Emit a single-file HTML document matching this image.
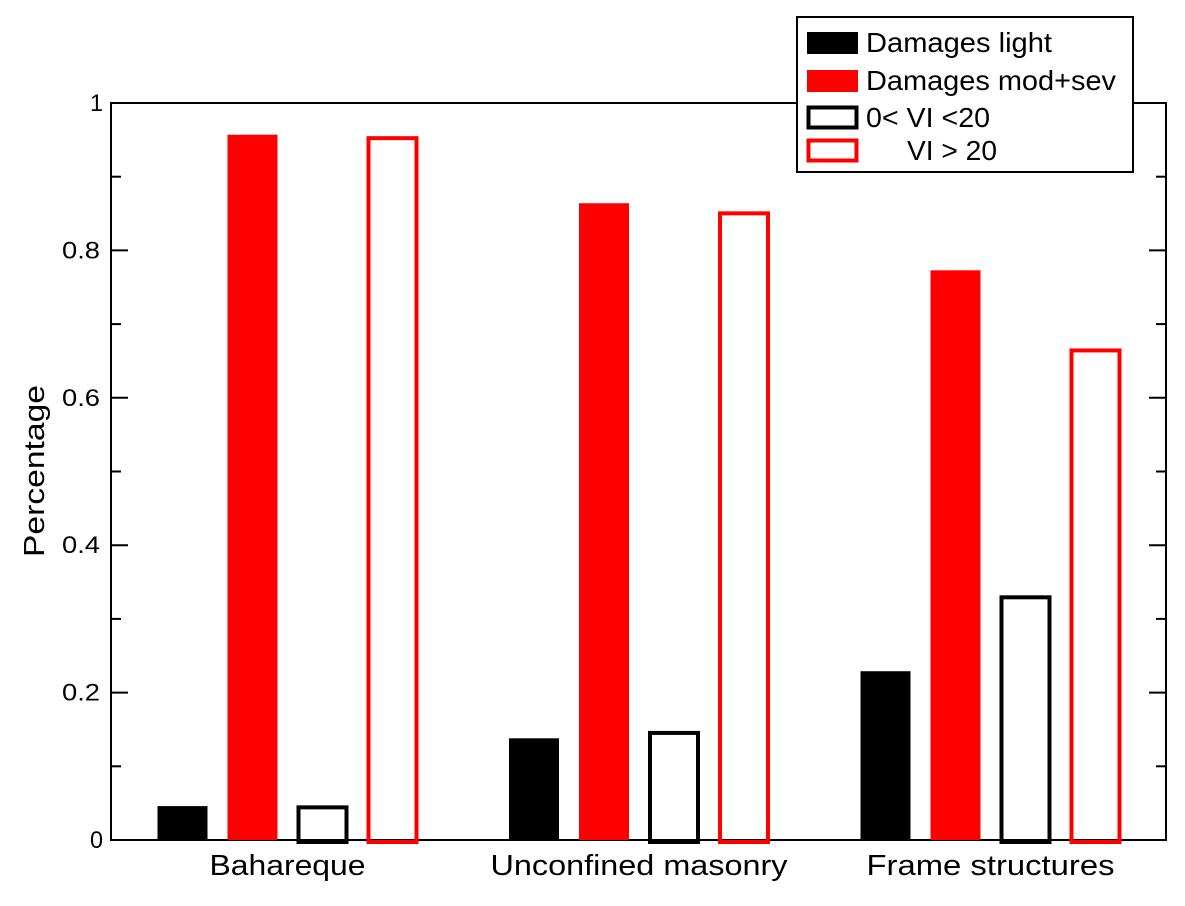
<!DOCTYPE html>
<html><head><meta charset="utf-8"><style>
body{margin:0;background:#fff;}
text{font-family:"Liberation Sans",Arial,sans-serif;}
</style></head><body>
<svg width="1185" height="901" xmlns="http://www.w3.org/2000/svg">
<g id="plot"></g>
<g>
<rect x="797" y="17" width="336" height="155" fill="#fff" stroke="#000" stroke-width="2"/>
<rect x="807" y="32" width="51" height="22" fill="#000"/>
<text x="866" y="52" font-size="28" textLength="186" lengthAdjust="spacingAndGlyphs">Damages light</text>
<rect x="807" y="70" width="51" height="22" fill="#f00"/>
<text x="866" y="90" font-size="28" textLength="250" lengthAdjust="spacingAndGlyphs">Damages mod+sev</text>
<rect x="808.5" y="107.5" width="48" height="20" fill="none" stroke="#000" stroke-width="4"/>
<text x="866" y="127" font-size="28" textLength="124" lengthAdjust="spacingAndGlyphs">0&lt; VI &lt;20</text>
<rect x="808.5" y="140.5" width="48" height="20" fill="none" stroke="#f00" stroke-width="4"/>
<text x="907" y="160" font-size="28" textLength="90" lengthAdjust="spacingAndGlyphs">VI &gt; 20</text>
</g>
</svg>
<script>
const categories=["Bahareque","Unconfined masonry","Frame structures"];
const damagesLight=[0.046,0.138,0.229];
const damagesModSev=[0.957,0.864,0.773];
const viLow=[0.047,0.148,0.332];
const viHigh=[0.955,0.853,0.667];
const yTicks=[0,0.2,0.4,0.6,0.8,1];
const yTickLabels=["0","0.2","0.4","0.6","0.8","1"];
const NS="http://www.w3.org/2000/svg";
const g=document.getElementById('plot');
const L=111,R=1166,T=103,B=840;
const y=v=>B-(B-T)*v;
const groupX=i=>287.5+351.5*i;
function mk(tag,attrs){const e=document.createElementNS(NS,tag);for(const k in attrs)e.setAttribute(k,attrs[k]);g.appendChild(e);return e;}
const fr=mk('rect',{x:L,y:T,width:R-L,height:B-T,fill:'none',stroke:'#000','stroke-width':2});


for(let i=0;i<=10;i++){const v=i/10,yy=y(v),len=i%2===0?17:10;
 const t1=mk('line',{x1:L,x2:L+len,y1:yy,y2:yy,stroke:'#000','stroke-width':2});
 
 
 const t2=mk('line',{x1:R-len,x2:R,y1:yy,y2:yy,stroke:'#000','stroke-width':2});
 
 }
yTicks.forEach((v,i)=>{const lab=yTickLabels[i];const t=mk('text',{x:lab.length>1?L-11:L-8,y:y(v)+8,'text-anchor':'end','font-size':24,textLength:lab.length>1?38:13,lengthAdjust:'spacingAndGlyphs'});t.textContent=lab;
 
 });
const yt=mk('text',{x:0,y:0,'font-size':29,'text-anchor':'middle',textLength:172,lengthAdjust:'spacingAndGlyphs',transform:'translate(44,471) rotate(-90)'});yt.textContent='Percentage';


const catLens=[156,297,248];
const W=50;
const series=[{d:damagesLight,fill:'#000',stroke:null,off:-105,n:'bar-damages-light'},
{d:damagesModSev,fill:'#f00',stroke:null,off:-35,n:'bar-damages-modsev'},
{d:viLow,fill:'none',stroke:'#000',off:35,n:'bar-vi-low'},
{d:viHigh,fill:'none',stroke:'#f00',off:105,n:'bar-vi-high'}];
categories.forEach((c,i)=>{const cx=groupX(i);
 series.forEach(s=>{const v=s.d[i];const x0=cx+s.off-W/2;let r;
  if(s.stroke){r=mk('rect',{x:x0+1,y:y(v)+2,width:W-2,height:B-y(v),fill:'none',stroke:s.stroke,'stroke-width':4});}
  else{r=mk('rect',{x:x0,y:y(v),width:W,height:B-y(v),fill:s.fill});}
  
  });
 const t=mk('text',{x:cx,y:875,'text-anchor':'middle','font-size':29,textLength:catLens[i],lengthAdjust:'spacingAndGlyphs'});t.textContent=c;
 
 });
</script>
</body></html>
